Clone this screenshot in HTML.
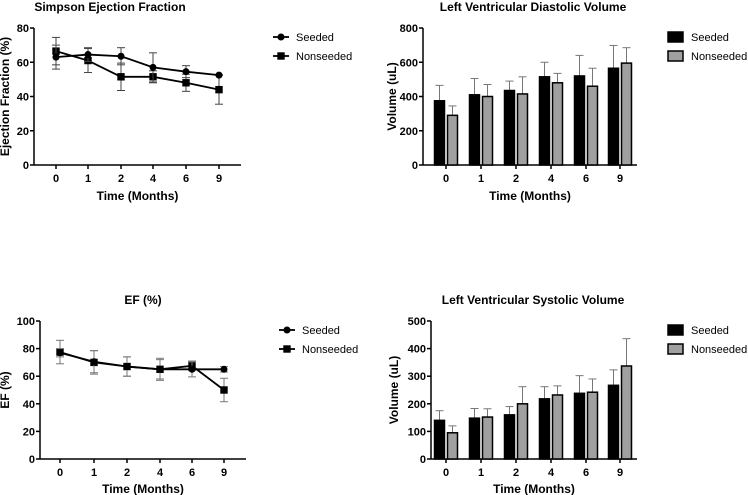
<!DOCTYPE html>
<html><head><meta charset="utf-8"><style>
body{margin:0;background:#fff;}
svg{display:block;font-family:"Liberation Sans",Arial,sans-serif;}
.t{font-weight:bold;font-size:12px;fill:#000}
.tk{font-weight:bold;font-size:11px;fill:#000}
.lg{font-size:11px;fill:#000}
</style></head><body>
<svg id="s" width="748" height="495"></svg>
<script>
const cats=["0","1","2","4","6","9"];
const efSeeded=[63,64.5,63.5,57,54.5,52.5];
const efSeededErr=[7,4,5,8.5,3.5,0];
const efNon=[66.5,61,51.5,51.5,48,44];
const efNonErr=[8,7,8,3.5,5,8.5];
const ediaSeeded=[375,410,435,515,520,565];
const ediaSeededErr=[90,95,55,85,120,133];
const ediaNon=[290,400,415,480,460,595];
const ediaNonErr=[55,70,100,55,105,90];
const ef2Seeded=[77,70.5,67,65,65,65];
const ef2SeededErr=[3,8,7,8,5.5,2];
const ef2Non=[77.5,70,67,65,67.5,50];
const ef2NonErr=[8.5,8.5,7,7,3.5,8.5];
const sysSeeded=[140,148,160,218,238,267];
const sysSeededErr=[35,35,30,44,64,56];
const sysNon=[95,152,200,232,242,337];
const sysNonErr=[25,30,62,33,48,99];
const yt1=[0,20,40,60,80],yt2=[0,200,400,600,800],yt3=[0,20,40,60,80,100],yt4=[0,100,200,300,400,500];

const S=document.getElementById('s');const NS='http://www.w3.org/2000/svg';
function el(t,a,p){const e=document.createElementNS(NS,t);for(const k in a)e.setAttribute(k,a[k]);(p||S).appendChild(e);return e;}
function txt(x,y,s,c,a){const e=el('text',Object.assign({x:x,y:y,class:c},a||{}));e.textContent=s;return e;}

function axes(g,o){
  const sy=v=>o.y0-(v/o.max)*(o.y0-o.y1);
  el('line',{x1:o.x0,y1:o.y1,x2:o.x0,y2:o.y0,stroke:'#000','stroke-width':1.5},g);
  el('line',{x1:o.x0,y1:o.y0,x2:o.x1,y2:o.y0,stroke:'#000','stroke-width':1.5},g);
  o.ticks.forEach(t=>{const y=sy(t);
    el('line',{x1:o.x0-4,y1:y,x2:o.x0,y2:y,stroke:'#000','stroke-width':1.5},g);
    const l=txt(o.x0-5,y+4,String(t),'tk',{'text-anchor':'end'});
    
    });
  o.xs.forEach((x,i)=>{
    el('line',{x1:x,y1:o.y0,x2:x,y2:o.y0+4,stroke:'#000','stroke-width':1.5},g);
    const l=txt(x,o.y0+17,cats[i],'tk',{'text-anchor':'middle'});
    
    });
  const ti=txt(o.tx,o.ty,o.title,'t',{'text-anchor':'middle'});
  
  
  const xl=txt((o.x0+o.x1)/2,o.y0+o.xly,'Time (Months)','t',{'text-anchor':'middle'});
  
  
  const yl=txt(0,0,o.ylabel,'t',{'text-anchor':'middle','transform':`translate(${o.ylx},${(o.y0+o.y1)/2}) rotate(-90)`});
  
  
  return sy;
}
function lineChart(o,s1,e1,s2,e2,ecol){
  const g=el('g',{});
  const sy=axes(g,o);
  [[s2,e2,'sq'],[s1,e1,'ci']].forEach(([v,e,m])=>{
    v.forEach((d,i)=>{const x=o.xs[i];
      el('line',{x1:x,y1:sy(d-e[i]),x2:x,y2:sy(d+e[i]),stroke:ecol,'stroke-width':1},g);
      [d-e[i],d+e[i]].forEach(w=>el('line',{x1:x-4,y1:sy(w),x2:x+4,y2:sy(w),stroke:ecol,'stroke-width':1},g));});
    const p=el('polyline',{points:v.map((d,i)=>o.xs[i]+','+sy(d)).join(' '),fill:'none',stroke:'#000','stroke-width':1.8},g);
    
    
    v.forEach((d,i)=>{const x=o.xs[i],y=sy(d);let mk;
      if(m=='ci')mk=el('circle',{cx:x,cy:y,r:3.5,fill:'#000'},g);
      else mk=el('rect',{x:x-3.7,y:y-3.7,width:7.4,height:7.4,fill:'#000'},g);
      
      });
  });
  const L=o.leg;
  el('line',{x1:L.x-8,y1:L.y,x2:L.x+8,y2:L.y,stroke:'#000','stroke-width':1.8},g);
  el('circle',{cx:L.x,cy:L.y,r:3.5,fill:'#000'},g);
  const t1=txt(L.x+15,L.y+4,'Seeded','lg');
  el('line',{x1:L.x-8,y1:L.y+19,x2:L.x+8,y2:L.y+19,stroke:'#000','stroke-width':1.8},g);
  el('rect',{x:L.x-3.7,y:L.y+15.3,width:7.4,height:7.4,fill:'#000'},g);
  const t2=txt(L.x+15,L.y+23,'Nonseeded','lg');
}
function barChart(o,s1,e1,s2,e2){
  const g=el('g',{});
  const sy=axes(g,o);const bw=10;
  [[s1,e1,'#000',-1],[s2,e2,'#a0a0a0',1]].forEach(([v,e,f,sd])=>{
    v.forEach((d,i)=>{const x=o.xs[i]+(sd<0?-bw-1.5:1.5);
      el('line',{x1:x+bw/2,y1:sy(d),x2:x+bw/2,y2:sy(d+e[i]),stroke:'#777','stroke-width':1},g);
      el('line',{x1:x+bw/2-4,y1:sy(d+e[i]),x2:x+bw/2+4,y2:sy(d+e[i]),stroke:'#777','stroke-width':1},g);
      const r=el('rect',{x:x,y:sy(d),width:bw,height:o.y0-sy(d),fill:f,stroke:'#000','stroke-width':1.5},g);
      
      });
  });
  const L=o.leg;
  el('rect',{x:L.x,y:L.y-5,width:15,height:10,fill:'#000',stroke:'#000','stroke-width':1.5},g);
  const t1=txt(L.x+23,L.y+4,'Seeded','lg');
  el('rect',{x:L.x,y:L.y+14,width:15,height:10,fill:'#a0a0a0',stroke:'#000','stroke-width':1.5},g);
  const t2=txt(L.x+23,L.y+23,'Nonseeded','lg');
}
lineChart({name:'simpson-ef-chart',x0:34,x1:241,y0:165,y1:28,max:80,ticks:yt1,xs:[56,88,121,153,186,219],title:'Simpson Ejection Fraction',tx:110,ty:11,ylabel:'Ejection Fraction (%)',ylx:9,xly:35,leg:{x:281,y:37}},efSeeded,efSeededErr,efNon,efNonErr,'#444');
barChart({name:'diastolic-volume-chart',x0:423,x1:637,y0:165,y1:28,max:800,ticks:yt2,xs:[446,481,516,551,586,620],title:'Left Ventricular Diastolic Volume',tx:533,ty:11,ylabel:'Volume (uL)',ylx:396,xly:35,leg:{x:668,y:37}},ediaSeeded,ediaSeededErr,ediaNon,ediaNonErr);
lineChart({name:'ef-chart',x0:40,x1:246,y0:459,y1:321,max:100,ticks:yt3,xs:[60,94,127,160,192,224],title:'EF (%)',tx:143,ty:304,ylabel:'EF (%)',ylx:9,xly:34,leg:{x:287,y:330}},ef2Seeded,ef2SeededErr,ef2Non,ef2NonErr,'#777');
barChart({name:'systolic-volume-chart',x0:431,x1:637,y0:459,y1:321,max:500,ticks:yt4,xs:[446,481,516,551,586,620],title:'Left Ventricular Systolic Volume',tx:533,ty:304,ylabel:'Volume (uL)',ylx:398,xly:34,leg:{x:668,y:330}},sysSeeded,sysSeededErr,sysNon,sysNonErr);
</script>
</body></html>
